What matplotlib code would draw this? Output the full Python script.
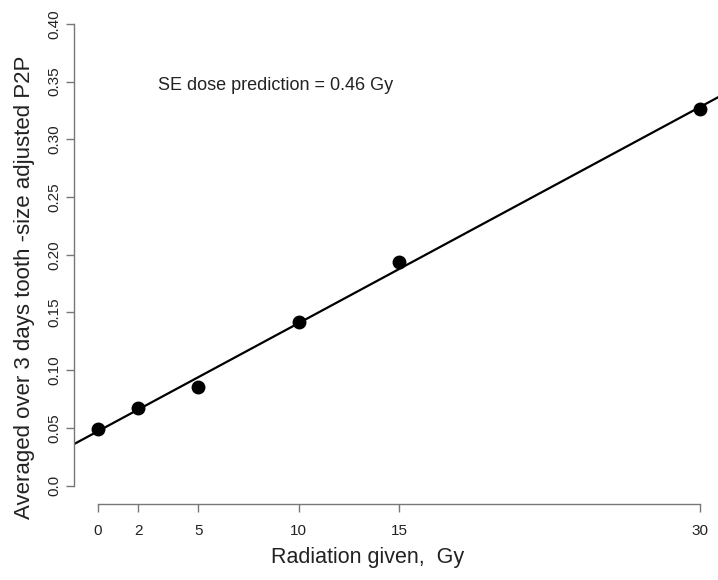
import matplotlib
matplotlib.use("Agg")
import matplotlib.pyplot as plt
import numpy as np

plt.rcParams['font.family'] = ['Liberation Sans', 'DejaVu Sans']

# dose given (Gy) and averaged tooth-size adjusted P2P
dose = [0, 2, 5, 10, 15, 30]
p2p = [0.049, 0.0675, 0.0857, 0.1414, 0.1937, 0.326]
x_ticks = [0, 2, 5, 10, 15, 30]
y_ticks = [0.0, 0.05, 0.10, 0.15, 0.20, 0.25, 0.30, 0.35, 0.40]
y_tick_labels = ['0.0', '0.05', '0.10', '0.15', '0.20', '0.25', '0.30', '0.35', '0.40']

W, H = 718, 580
fig = plt.figure(figsize=(W / 100, H / 100), dpi=100)
# R-like plot region (extends slightly past right edge, as in the original crop)
ax = fig.add_axes([74 / W, (H - 504) / H, (724 - 74) / W, (504 - 5.5) / H])
ax.set_xlim(-1.2, 31.2)
ax.set_ylim(-0.016, 0.416)

slope, icpt = np.polyfit(dose, p2p, 1)
ax.axline((0, icpt), slope=slope, color='black', lw=1.6, zorder=2)
ax.plot(dose, p2p, 'o', color='black', ms=9, zorder=3)

axis_col = '#777777'
for side in ['top', 'right']:
    ax.spines[side].set_visible(False)
for side in ['left', 'bottom']:
    ax.spines[side].set_color(axis_col)
    ax.spines[side].set_linewidth(1.0)
ax.spines['left'].set_bounds(0, 0.40)
ax.spines['bottom'].set_bounds(0, 30)

ax.set_xticks(x_ticks)
ax.set_xticklabels([str(t) for t in x_ticks])
ax.set_yticks(y_ticks)
ax.set_yticklabels(y_tick_labels, rotation=90, va='center')
ax.tick_params(axis='both', length=6, width=1.0, color=axis_col,
               labelsize=11, labelcolor='#222222')
ax.tick_params(axis='x', pad=8.5)
ax.tick_params(axis='y', pad=3)

ax.text(3, 0.347, 'SE dose prediction = 0.46 Gy', fontsize=13,
        ha='left', va='center', color='#222222')

fig.text(368 / W, (H - 558) / H, 'Radiation given,  Gy', fontsize=15.5,
         ha='center', va='center', color='#222222')
fig.text(25 / W, (H - 287.5) / H, 'Averaged over 3 days tooth -size adjusted P2P',
         fontsize=16, rotation=90, ha='center', va='center', color='#222222')

fig.savefig('out.png', dpi=100)
